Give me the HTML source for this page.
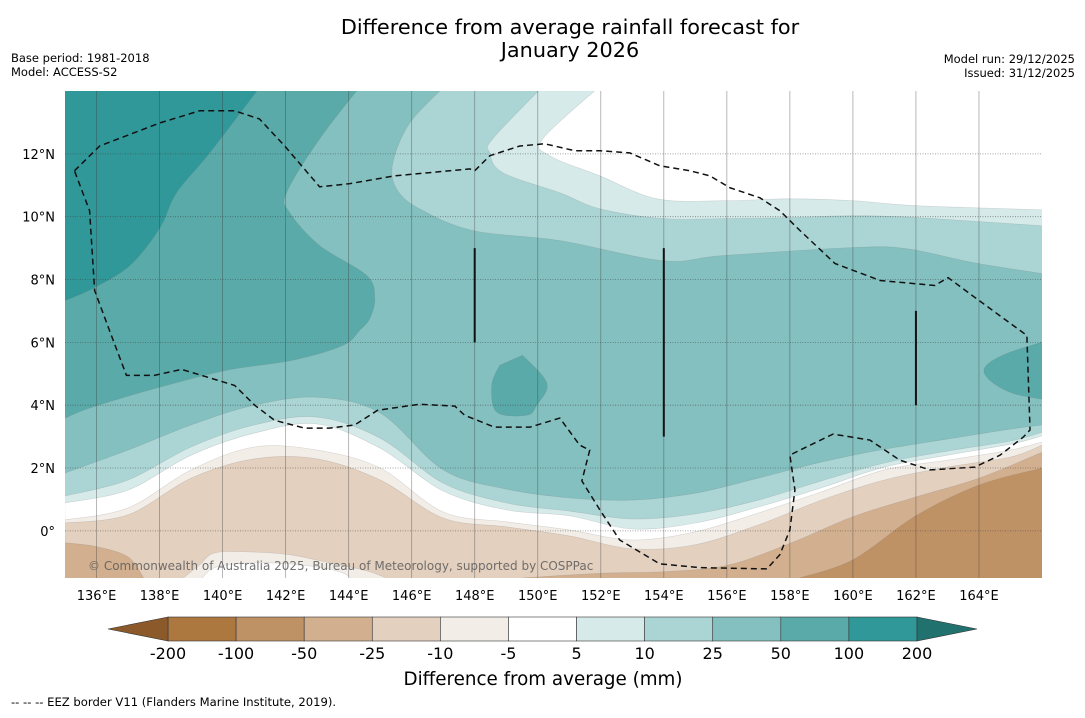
<!DOCTYPE html>
<html><head><meta charset="utf-8">
<style>
body{margin:0;background:#fff;width:1085px;height:713px;overflow:hidden;font-family:"Liberation Sans","DejaVu Sans",sans-serif;}
svg text{font-family:"DejaVu Sans","Liberation Sans",sans-serif;}
</style></head>
<body>
<svg id="chart" width="1085" height="713" viewBox="0 0 1085 713" xmlns="http://www.w3.org/2000/svg">
<text x="570" y="34" font-size="20.8" text-anchor="middle">Difference from average rainfall forecast for</text>
<text x="570" y="57" font-size="20.8" text-anchor="middle">January 2026</text>
<text x="11" y="62" font-size="11.5">Base period: 1981-2018</text>
<text x="11" y="76" font-size="11.5">Model: ACCESS-S2</text>
<text x="1075" y="63" font-size="11.5" text-anchor="end">Model run: 29/12/2025</text>
<text x="1075" y="77" font-size="11.5" text-anchor="end">Issued: 31/12/2025</text>
<defs><clipPath id="mapclip"><rect x="65" y="91" width="977" height="487"/></clipPath></defs>
<g id="map" clip-path="url(#mapclip)"></g>
<g id="axes"></g>
<g id="cbar"></g>
<text x="543" y="685" font-size="18.3" text-anchor="middle">Difference from average (mm)</text>
<text x="11" y="706" font-size="11.6">--  --  -- EEZ border V11 (Flanders Marine Institute, 2019).</text>
</svg>
<script>
// ---- data ----
const lons = [135,137,139,141,143,145,147,149,151,153,155,157,159,161,163,165,166];
const c25lo = [1.84,2.57,3.37,4.0,4.25,3.75,1.94,1.33,1.05,0.98,1.2,1.68,2.19,2.6,2.92,3.24,3.37];
const c10lo = [1.11,1.62,2.67,3.37,3.62,2.95,1.52,0.89,0.63,0.38,0.54,0.98,1.59,2.16,2.54,2.86,3.14];
const c5lo  = [0.89,1.3,2.41,3.11,3.4,2.63,1.27,0.67,0.48,0.06,0.25,0.76,1.37,2.03,2.41,2.76,3.02];
const cm5   = [0.35,0.73,1.94,2.67,2.57,2.0,0.6,0.29,0.03,-0.29,-0.03,0.57,1.24,1.94,2.25,2.57,2.83];
const cm10  = [0.25,0.51,1.68,2.29,2.29,1.62,0.41,0.13,-0.16,-0.57,-0.44,0.19,0.98,1.62,2.03,2.35,2.73];
const cm25right = [[149.5,-1.5],[152,-1.35],[154,-1.3],[156,-1.1],[158,-0.4],[160,0.45],[162,1.08],[164,1.68],[166,2.5]];
const cm25left = [[135,-0.38],[136,-0.5],[137,-0.83],[137.5,-1.5]];
const cm50 = [[158.3,-1.5],[160,-0.92],[162,0.48],[164,1.46],[166,2.0]];
const cm10bulge = [[138.63,-1.6],[139.27,-1.08],[139.75,-0.7],[140.86,-0.67],[142.13,-0.76],[143.4,-1.02],[144.67,-1.3],[145.4,-1.6]];
const cm5bulge = [[139.27,-1.6],[139.75,-1.17],[140.86,-1.02],[142.44,-1.08],[143.71,-1.3],[144.19,-1.6]];
const c5up = [[152.03,14.2],[150.16,12.48],[150.38,11.94],[151.97,11.3],[153.78,10.57],[155.87,10.51],[158,10.57],[160,10.51],[162.03,10.35],[166,10.22]];
const c10up = [[150.22,14.2],[148.57,12.48],[148.48,12.03],[148.89,11.4],[150.7,10.76],[151.97,10.25],[153.97,9.94],[156,9.94],[158,9.97],[160,10.03],[162.03,9.97],[166,9.71]];
const c25up = [[147.1,14.2],[145.94,12.98],[145.4,11.71],[145.52,10.89],[146.25,10.25],[147.94,9.56],[150.7,9.24],[153.97,8.6],[155.87,8.76],[160,9.02],[161.71,8.98],[163.81,8.54],[166,8.19]];
const c50 = [[144.41,14.2],[143.08,12.48],[142.03,10.76],[142.13,10.13],[143.08,9.08],[144.57,8.13],[144.83,7.4],[144.67,6.76],[144.35,6.38],[143.81,5.9],[142.22,5.43],[140.13,5.11],[138.0,4.57],[135.87,3.94],[135,3.59]];
const c50blobA = [[149.52,5.59],[150.29,4.7],[149.97,4.0],[149.65,3.68],[148.7,3.78],[148.54,4.63],[148.79,5.27]];
const c50blobB = [[166.2,6.06],[164.89,5.65],[164.19,5.21],[164.35,4.79],[165.08,4.38],[166.2,4.16]];
const c100 = [[141.24,14.2],[139.59,12.03],[138.54,10.76],[138.0,9.62],[137.05,8.44],[135.87,7.71],[135,7.33]];
const eez = [[135.30,11.46],[136.10,12.25],[138.0,12.98],[139.27,13.37],[140.38,13.37],[141.17,13.11],[141.97,12.25],[143.08,10.95],[144.03,11.05],[145.46,11.30],[147.84,11.52],[148.0,11.46],[148.48,11.94],[149.43,12.25],[150.22,12.32],[151.17,12.10],[151.97,12.10],[152.92,12.03],[153.87,11.62],[154.83,11.46],[155.46,11.30],[156.10,10.92],[157.05,10.60],[157.68,10.19],[158.32,9.56],[159.43,8.51],[160.86,7.97],[162.60,7.81],[163.02,8.06],[163.87,7.43],[165.52,6.22],[165.62,3.21],[165.40,2.98],[164.67,2.41],[163.87,2.03],[162.44,1.94],[161.49,2.25],[160.54,2.89],[159.37,3.08],[158.32,2.57],[158.0,2.41],[158.16,1.30],[158.0,0.03],[157.68,-0.76],[157.27,-1.21],[155.14,-1.17],[153.87,-1.05],[152.60,-0.29],[151.97,0.67],[151.40,1.59],[151.65,2.57],[151.33,2.73],[150.70,3.59],[149.75,3.30],[148.63,3.30],[147.68,3.68],[147.37,3.97],[146.25,4.03],[144.92,3.84],[144.19,3.37],[143.40,3.27],[142.60,3.27],[141.65,3.52],[141.02,4.0],[140.38,4.63],[139.43,4.92],[138.70,5.14],[137.84,4.95],[136.95,4.95],[136.41,6.38],[135.94,7.65],[135.78,10.19],[135.30,11.46]];
const solidLines = [[148,6,9],[154,3,9],[162,4,7]];
const xTicks = [136,138,140,142,144,146,148,150,152,154,156,158,160,162,164];
const yTicks = [0,2,4,6,8,10,12];
const levels = [-200,-100,-50,-25,-10,-5,5,10,25,50,100,200];
const bandColors = ['#ad7740','#bf9266','#d2b08f','#e4d0bf','#f2ede7','#ffffff','#d5eae9','#abd5d4','#83c0bf','#59aaa9','#31989a'];
const extLow = '#8c5a2a', extHigh = '#21716f';

// ---- axis functions ----
const X0=65,X1=1042,Y0=91,Y1=578, LON0=135,LON1=166,LAT0=-1.5,LAT1=14;
const sx = lon => X0 + (lon-LON0)/(LON1-LON0)*(X1-X0);
const sy = lat => Y1 - (lat-LAT0)/(LAT1-LAT0)*(Y1-Y0);
const NS='http://www.w3.org/2000/svg';
const map=document.getElementById('map'), axes=document.getElementById('axes'), cbar=document.getElementById('cbar');

function smooth(pts){
  let d='';
  for(let i=0;i<pts.length-1;i++){
    const p0=pts[Math.max(0,i-1)],p1=pts[i],p2=pts[i+1],p3=pts[Math.min(pts.length-1,i+2)];
    const c1=[p1[0]+(p2[0]-p0[0])/6,p1[1]+(p2[1]-p0[1])/6];
    const c2=[p2[0]-(p3[0]-p1[0])/6,p2[1]-(p3[1]-p1[1])/6];
    d+=` C${c1[0].toFixed(1)},${c1[1].toFixed(1)} ${c2[0].toFixed(1)},${c2[1].toFixed(1)} ${p2[0].toFixed(1)},${p2[1].toFixed(1)}`;
  }
  return d;
}
const P = ll => ll.map(p=>[sx(p[0]),sy(p[1])]);
const fromArr = arr => lons.map((l,i)=>[l,arr[i]]);
function pathFrom(segs){
  let d='';
  segs.forEach((s,k)=>{
    const pp=P(s.pts);
    if(k===0) d+=`M${pp[0][0]},${pp[0][1]}`; else d+=` L${pp[0][0]},${pp[0][1]}`;
    if(s.smooth) d+=smooth(pp); else pp.slice(1).forEach(p=>d+=` L${p[0]},${p[1]}`);
  });
  return d+' Z';
}
function addPath(d,fill,name){
  const e=document.createElementNS(NS,'path');
  e.setAttribute('d',d); e.setAttribute('fill',fill);
  e.setAttribute('stroke','rgba(120,120,120,0.25)'); e.setAttribute('stroke-width','0.6');
  
  
  map.appendChild(e);
}
const TL=[135-0.2,14.2], BL=[135-0.2,-1.7];
const base=document.createElementNS(NS,'rect');
base.setAttribute('x',X0);base.setAttribute('y',Y0);base.setAttribute('width',X1-X0);base.setAttribute('height',Y1-Y0);base.setAttribute('fill',bandColors[1]);


map.appendChild(base);
addPath(pathFrom([{pts:cm50,smooth:true},{pts:[[166.2,2.0],[166.2,14.2],TL,BL,[158.3,-1.7]]}]),bandColors[2],'band-minus50-to-minus25');
addPath(pathFrom([{pts:cm25left,smooth:true},{pts:[[137.5,-1.7],[149.5,-1.7]]},{pts:cm25right,smooth:true},{pts:[[166.2,2.5],[166.2,14.2],TL]}]),bandColors[3],'band-minus25-to-minus10');
addPath(pathFrom([{pts:fromArr(cm10),smooth:true},{pts:[[166.2,cm10[cm10.length-1]],[166.2,14.2],TL]}]),bandColors[4],'band-minus10-to-minus5');
addPath(pathFrom([{pts:cm10bulge,smooth:true}]),bandColors[4],'band-minus10-to-minus5-south');
addPath(pathFrom([{pts:fromArr(cm5),smooth:true},{pts:[[166.2,cm5[cm5.length-1]],[166.2,14.2],TL]}]),bandColors[5],'band-minus5-to-5');
addPath(pathFrom([{pts:cm5bulge,smooth:true}]),bandColors[5],'band-minus5-to-5-south');
function upperBand(lo,up,color,name){
  const loPts=fromArr(lo).reverse();
  addPath(pathFrom([{pts:[TL]},{pts:up,smooth:true},{pts:[[166.2,up[up.length-1][1]],[166.2,lo[lo.length-1]]]},{pts:loPts,smooth:true},{pts:[[134.8,lo[0]]]}]),color,name);
}
upperBand(c5lo,c5up,bandColors[6],'band-5-to-10');
upperBand(c10lo,c10up,bandColors[7],'band-10-to-25');
upperBand(c25lo,c25up,bandColors[8],'band-25-to-50');
addPath(pathFrom([{pts:[TL]},{pts:c50,smooth:true},{pts:[[134.8,3.59]]}]),bandColors[9],'band-50-to-100');
addPath(pathFrom([{pts:c50blobA,smooth:true},{pts:[c50blobA[0]],smooth:true}]),bandColors[9],'band-50-to-100-blob-150e');
addPath(pathFrom([{pts:c50blobB,smooth:true}]),bandColors[9],'band-50-to-100-blob-165e');
addPath(pathFrom([{pts:[TL]},{pts:c100,smooth:true},{pts:[[134.8,7.33]]}]),bandColors[10],'band-100-to-200');

for(let lon=136;lon<=165;lon+=2){
  const l=document.createElementNS(NS,'line');
  l.setAttribute('x1',sx(lon));l.setAttribute('x2',sx(lon));l.setAttribute('y1',Y0);l.setAttribute('y2',Y1);
  l.setAttribute('stroke','rgba(60,60,60,0.45)');l.setAttribute('stroke-width','0.8');
  
  
  map.appendChild(l);
}
yTicks.forEach(lat=>{
  const l=document.createElementNS(NS,'line');
  l.setAttribute('x1',X0);l.setAttribute('x2',X1);l.setAttribute('y1',sy(lat));l.setAttribute('y2',sy(lat));
  l.setAttribute('stroke','rgba(60,60,60,0.6)');l.setAttribute('stroke-width','0.8');l.setAttribute('stroke-dasharray','1,1.5');
  
  
  map.appendChild(l);
});
const eezPath=document.createElementNS(NS,'polyline');
eezPath.setAttribute('points',P(eez).map(p=>p.join(',')).join(' '));
eezPath.setAttribute('fill','none');eezPath.setAttribute('stroke','#111');eezPath.setAttribute('stroke-width','1.5');eezPath.setAttribute('stroke-dasharray','6,4');


map.appendChild(eezPath);
solidLines.forEach(s=>{
  const l=document.createElementNS(NS,'line');
  l.setAttribute('x1',sx(s[0]));l.setAttribute('x2',sx(s[0]));l.setAttribute('y1',sy(s[2]));l.setAttribute('y2',sy(s[1]));
  l.setAttribute('stroke','#111');l.setAttribute('stroke-width','2');
  
  
  map.appendChild(l);
});
const cp=document.createElementNS(NS,'text');
cp.setAttribute('x',88);cp.setAttribute('y',570);cp.setAttribute('font-size','12');cp.setAttribute('fill','rgba(90,90,90,0.85)');
cp.textContent='© Commonwealth of Australia 2025, Bureau of Meteorology, supported by COSPPac';


map.appendChild(cp);

xTicks.forEach(lon=>{
  const t=document.createElementNS(NS,'text');
  t.setAttribute('x',sx(lon));t.setAttribute('y',600);t.setAttribute('font-size','13');t.setAttribute('text-anchor','middle');
  t.textContent=lon+'°E';
  
  
  axes.appendChild(t);
});
yTicks.forEach(lat=>{
  const t=document.createElementNS(NS,'text');
  t.setAttribute('x',55);t.setAttribute('y',sy(lat)+5);t.setAttribute('font-size','13');t.setAttribute('text-anchor','end');
  t.textContent=lat===0?'0°':lat+'°N';
  
  
  axes.appendChild(t);
});

const CB0=168,CB1=917,CBY=617,CBH=24,EXT=60;
const cw=(CB1-CB0)/bandColors.length;
bandColors.forEach((c,i)=>{
  const r=document.createElementNS(NS,'rect');
  r.setAttribute('x',CB0+i*cw);r.setAttribute('y',CBY);r.setAttribute('width',cw);r.setAttribute('height',CBH);
  r.setAttribute('fill',c);r.setAttribute('stroke','#333');r.setAttribute('stroke-width','0.6');
  
  
  cbar.appendChild(r);
});
const tl=document.createElementNS(NS,'polygon');
tl.setAttribute('points',`${CB0},${CBY} ${CB0-EXT},${CBY+CBH/2} ${CB0},${CBY+CBH}`);tl.setAttribute('fill',extLow);tl.setAttribute('stroke','#333');tl.setAttribute('stroke-width','0.6');


cbar.appendChild(tl);
const tr=document.createElementNS(NS,'polygon');
tr.setAttribute('points',`${CB1},${CBY} ${CB1+EXT},${CBY+CBH/2} ${CB1},${CBY+CBH}`);tr.setAttribute('fill',extHigh);tr.setAttribute('stroke','#333');tr.setAttribute('stroke-width','0.6');


cbar.appendChild(tr);
levels.forEach((v,i)=>{
  const t=document.createElementNS(NS,'text');
  t.setAttribute('x',CB0+i*cw);t.setAttribute('y',659);t.setAttribute('font-size','16');t.setAttribute('text-anchor','middle');
  t.textContent=v;
  
  
  cbar.appendChild(t);
});
</script>
</body></html>
